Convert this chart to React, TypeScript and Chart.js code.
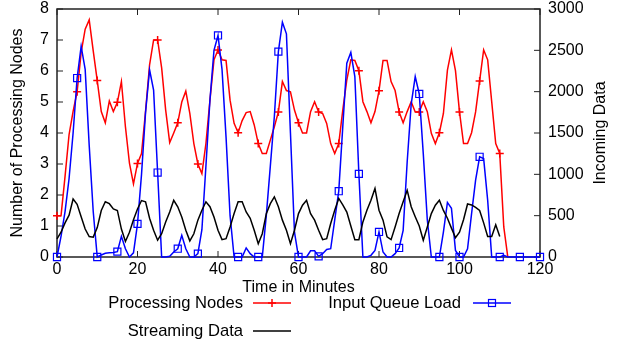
import React, { useEffect, useRef } from 'react';
import { Chart, registerables } from 'chart.js';

Chart.register(...registerables);

// Time axis ticks (minutes)
const xTickValues = [0, 20, 40, 60, 80, 100, 120];
const seriesLabels = ['Processing Nodes', 'Input Queue Load', 'Streaming Data'];

// Processing Nodes (left axis), one value per minute starting at 0
const processingNodes = [
  1.33, 1.33, 2.6, 3.95, 4.7, 5.33, 6.6, 7.35, 7.65, 6.65,
  5.69, 4.69, 4.33, 5.03, 4.69, 4.99, 5.66, 4.2, 3.03, 2.36,
  3.02, 3.34, 4.7, 6.2, 7.0, 7.0, 6.1, 4.74, 3.69, 4.0,
  4.33, 5.0, 5.35, 4.63, 3.66, 3.0, 2.69, 3.66, 5.06, 6.36,
  6.68, 6.36, 6.34, 5.06, 4.31, 4.01, 4.4, 4.66, 4.69, 4.26,
  3.66, 3.34, 3.34, 3.77, 4.2, 4.68, 5.66, 5.37, 5.33, 4.74,
  4.33, 4.0, 4.0, 4.69, 5.01, 4.68, 4.63, 4.31, 3.66, 3.34,
  3.66, 4.74, 5.71, 6.36, 6.34, 6.01, 5.01, 4.69, 4.33, 4.69,
  5.36, 6.34, 6.34, 5.66, 5.37, 4.68, 4.33, 4.69, 5.01, 4.68,
  4.68, 5.01, 4.69, 3.99, 3.66, 4.01, 4.63, 6.03, 6.68, 6.01,
  4.68, 3.66, 3.66, 4.01, 4.68, 5.68, 6.68, 6.36, 5.01, 3.66,
  3.34, 0.97, 0,
];

// Input Queue Load (right axis)
const inputQueueLoad = [
  0, 250, 550, 950, 1500, 2165, 2550, 2270, 1350, 550,
  0, 25, 45, 50, 55, 65, 250, 100, 0, 50,
  400, 1000, 1750, 2265, 2020, 1022, 0, 0, 8, 60,
  100, 263, 100, 0, 0, 40, 330, 1100, 1900, 2500,
  2680, 2270, 1450, 500, 0, 0, 0, 110, 40, 0,
  0, 0, 500, 1100, 1700, 2485, 2840, 2700, 1500, 300,
  0, 0, 0, 75, 75, 8, 40, 90, 100, 450,
  796, 1575, 2345, 2474, 2183, 1006, 0, 0, 20, 80,
  303, 60, 0, 0, 40, 109, 323, 1150, 1850, 2183,
  1972, 1250, 450, 0, 0, 0, 300, 660, 590, 80,
  0, 0, 100, 525, 930, 1212, 1190, 687, 0, 0,
  0, 20, 0, 0, 0, 0, 0, 0, 0, 0, 0,
];

// Streaming Data (right axis)
const streamingData = [
  218, 300, 413, 506, 701, 638, 488, 338, 248, 240,
  356, 563, 668, 645, 581, 563, 338, 188, 300, 450,
  581, 683, 668, 469, 323, 203, 281, 424, 544, 686,
  608, 484, 323, 195, 281, 446, 566, 668, 608, 484,
  323, 210, 221, 364, 525, 668, 668, 544, 469, 323,
  161, 281, 525, 645, 728, 608, 446, 323, 161, 323,
  525, 626, 686, 525, 446, 323, 210, 221, 405, 566,
  709, 630, 544, 375, 210, 210, 424, 566, 686, 829,
  566, 446, 244, 210, 364, 525, 668, 806, 608, 488,
  375, 203, 364, 525, 626, 686, 563, 469, 349, 233,
  300, 450, 641, 630, 600, 563, 413, 248, 248, 390,
  248,
];

const FONT_FAMILY = "'Liberation Sans', Arial, Helvetica, sans-serif";
const RED = '#ff0000';
const BLUE = '#0000ff';
const BLACK = '#000000';

const toPoints = (arr: number[]) => arr.map((v, i) => ({ x: i, y: v }));
const markerRadius = (r: number) => (ctx: any) => (ctx.dataIndex % 5 === 0 ? r : 0);

const framePlugin = {
  id: 'gnuframe',
  beforeDatasetsDraw(chart: any) {
    const { ctx, chartArea: a, scales } = chart;
    ctx.save();
    ctx.strokeStyle = '#222';
    ctx.lineWidth = 1.5;
    ctx.strokeRect(a.left, a.top, a.right - a.left, a.bottom - a.top);
    ctx.lineWidth = 1;
    const t = 6;
    const seg = (x0: number, y0: number, x1: number, y1: number) => {
      ctx.beginPath();
      ctx.moveTo(x0, y0);
      ctx.lineTo(x1, y1);
      ctx.stroke();
    };
    scales.x.ticks.forEach((tk: any) => {
      const px = scales.x.getPixelForValue(tk.value);
      seg(px, a.bottom, px, a.bottom - t);
      seg(px, a.top, px, a.top + t);
    });
    scales.y.ticks.forEach((tk: any) => {
      const py = scales.y.getPixelForValue(tk.value);
      seg(a.left, py, a.left + t, py);
    });
    scales.y1.ticks.forEach((tk: any) => {
      const py = scales.y1.getPixelForValue(tk.value);
      seg(a.right, py, a.right - t, py);
    });
    ctx.restore();
  },
  afterDraw(chart: any) {
    const { ctx, chartArea: a } = chart;
    ctx.save();
    ctx.fillStyle = '#000';
    ctx.font = `16px ${FONT_FAMILY}`;
    // right axis title
    ctx.save();
    ctx.translate(601, (a.top + a.bottom) / 2);
    ctx.rotate(-Math.PI / 2);
    ctx.textAlign = 'center';
    ctx.textBaseline = 'middle';
    ctx.fillText('Incoming Data', 0, 0);
    ctx.restore();

    // legend (gnuplot style: text, then sample)
    ctx.font = `16.6px ${FONT_FAMILY}`;
    const items = [
      { label: seriesLabels[0], color: RED, marker: 'plus', tx: 243, y: 303, x0: 253, x1: 291 },
      { label: seriesLabels[1], color: BLUE, marker: 'square', tx: 461, y: 303, x0: 473, x1: 511 },
      { label: seriesLabels[2], color: BLACK, marker: 'none', tx: 243, y: 331, x0: 253, x1: 291 },
    ];
    items.forEach((it) => {
      ctx.fillStyle = '#000';
      ctx.textAlign = 'right';
      ctx.textBaseline = 'middle';
      ctx.fillText(it.label, it.tx, it.y);
      ctx.strokeStyle = it.color;
      ctx.lineWidth = 1.5;
      ctx.beginPath();
      ctx.moveTo(it.x0, it.y);
      ctx.lineTo(it.x1, it.y);
      ctx.stroke();
      const cx = (it.x0 + it.x1) / 2;
      if (it.marker === 'plus') {
        ctx.beginPath();
        ctx.moveTo(cx, it.y - 4);
        ctx.lineTo(cx, it.y + 4);
        ctx.moveTo(cx - 4, it.y);
        ctx.lineTo(cx + 4, it.y);
        ctx.stroke();
      } else if (it.marker === 'square') {
        ctx.lineWidth = 1.2;
        ctx.strokeRect(cx - 3.5, it.y - 3.5, 7, 7);
      }
    });
    ctx.restore();
  },
};

export default function App() {
  const canvasRef = useRef<HTMLCanvasElement | null>(null);

  useEffect(() => {
    if (!canvasRef.current) return;
    const font = { family: FONT_FAMILY, size: 16 };
    const noPadV = (s: any, w: number) => {
      s.width = w;
      s.paddingTop = 0;
      s.paddingBottom = 0;
    };
    const chart = new Chart(canvasRef.current, {
      type: 'line',
      data: {
        datasets: [
          {
            label: seriesLabels[0],
            data: toPoints(processingNodes),
            yAxisID: 'y',
            borderColor: RED,
            backgroundColor: RED,
            borderWidth: 1.5,
            pointStyle: 'cross',
            pointRadius: markerRadius(4),
            pointBorderColor: RED,
            pointBorderWidth: 1.5,
            tension: 0,
            order: 2,
            clip: false,
          },
          {
            label: seriesLabels[1],
            data: toPoints(inputQueueLoad),
            yAxisID: 'y1',
            borderColor: BLUE,
            backgroundColor: 'rgba(0,0,0,0)',
            borderWidth: 1.5,
            pointStyle: 'rect',
            pointRadius: markerRadius(5),
            pointBorderColor: BLUE,
            pointBackgroundColor: 'rgba(0,0,0,0)',
            pointBorderWidth: 1.2,
            tension: 0,
            order: 1,
            clip: false,
          },
          {
            label: seriesLabels[2],
            data: toPoints(streamingData),
            yAxisID: 'y1',
            borderColor: BLACK,
            backgroundColor: BLACK,
            borderWidth: 1.5,
            pointRadius: 0,
            tension: 0,
            order: 0,
            clip: false,
          },
        ],
      } as any,
      options: {
        animation: false,
        responsive: false,
        events: [],
        layout: { padding: { left: 0, right: 0, top: 9, bottom: 45 } },
        plugins: { legend: { display: false }, tooltip: { enabled: false } },
        scales: {
          x: {
            type: 'linear',
            min: 0,
            max: 120,
            afterBuildTicks: (s: any) => {
              s.ticks = xTickValues.map((v) => ({ value: v }));
            },
            ticks: { font, color: '#000', padding: 3, maxRotation: 0 },
            grid: { display: false, drawTicks: false },
            border: { display: false },
            title: { display: true, text: 'Time in Minutes', font, color: '#000', padding: { top: 0, bottom: 1 } },
            afterFit: (s: any) => {
              s.height = 41;
              s.paddingLeft = 0;
              s.paddingRight = 0;
            },
          },
          y: {
            position: 'left',
            min: 0,
            max: 8,
            ticks: { stepSize: 1, font, color: '#000', padding: 8 },
            grid: { display: false, drawTicks: false },
            border: { display: false },
            title: { display: true, text: 'Number of Processing Nodes', font, color: '#000', padding: { top: 8, bottom: 0 } },
            afterFit: (s: any) => noPadV(s, 57),
          },
          y1: {
            position: 'right',
            min: 0,
            max: 3000,
            ticks: { stepSize: 500, font, color: '#000', padding: 8, callback: (v: any) => String(v) },
            grid: { display: false, drawTicks: false },
            border: { display: false },
            afterFit: (s: any) => noPadV(s, 80),
          },
        },
      } as any,
      plugins: [framePlugin],
    });
    return () => chart.destroy();
  }, []);

  return (
    <div style={{ position: 'absolute', left: 0, top: 0, width: 620, height: 343 }}>
      <canvas ref={canvasRef} width={620} height={343} style={{ display: 'block', width: 620, height: 343 }} />
    </div>
  );
}
